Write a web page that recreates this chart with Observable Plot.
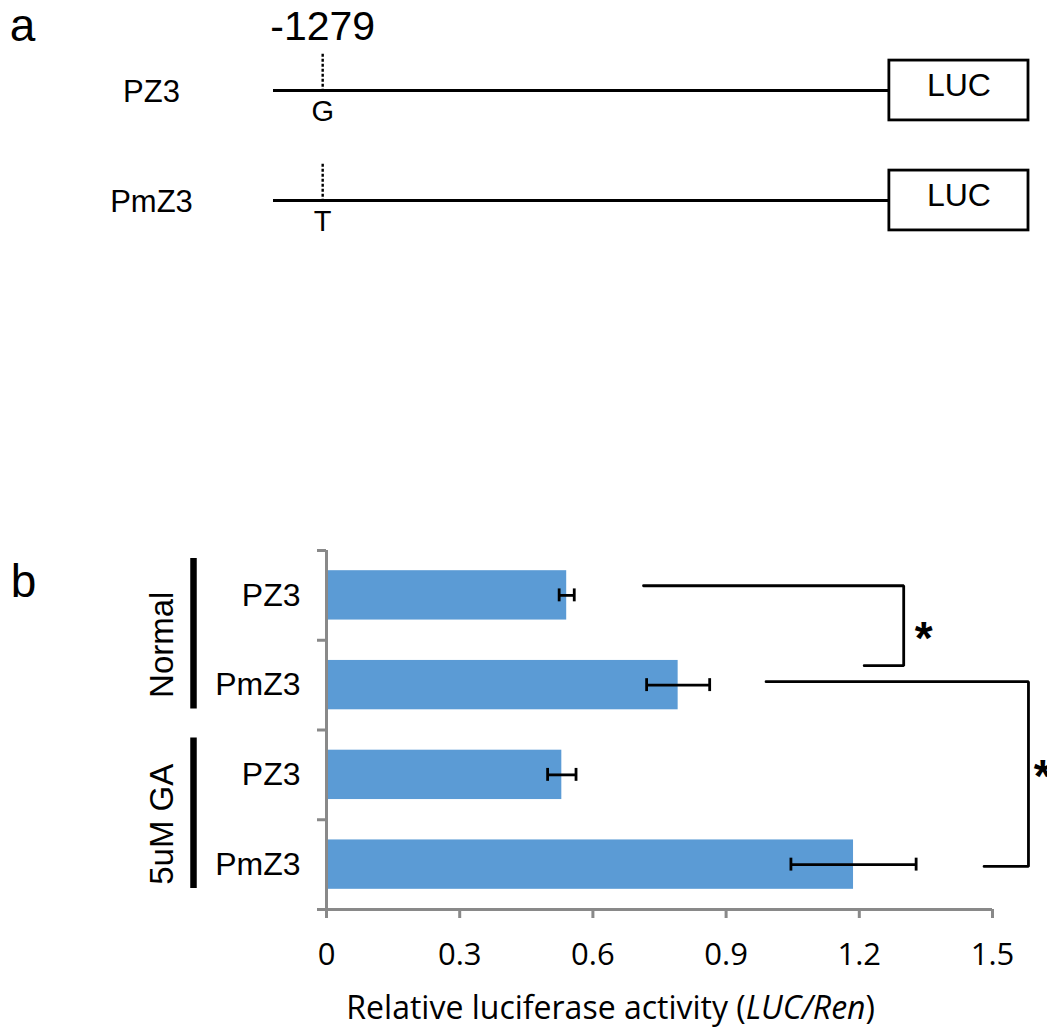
<!DOCTYPE html>
<html><head><meta charset="utf-8">
<script src="https://cdn.jsdelivr.net/npm/d3@7"></script>
<script src="https://cdn.jsdelivr.net/npm/@observablehq/plot@0.6"></script>
<style>
html,body{margin:0;padding:0;background:#fff;}
#fig{width:1047px;height:1029px;position:relative;overflow:hidden;background:#fff;}
#fig svg{display:block;}
</style></head><body><div id="fig"></div>
<script>
// ---------- Panel a: reporter constructs ----------
const constructs = ["PZ3", "PmZ3"];
const snpAllele = ["G", "T"];
const snpPosition = -1279;       // bp relative to LUC start
const promoterStart = -1390;     // bp
const lucLength = 314;           // drawn length of the LUC box (bp units)
const reporter = "LUC";

// ---------- Panel b: luciferase assay ----------
const treatments = ["Normal", "Normal", "5uM GA", "5uM GA"];
const barConstructs = ["PZ3", "PmZ3", "PZ3", "PmZ3"];
const activity = [0.541, 0.792, 0.530, 1.187];
const activityErr = [0.017, 0.071, 0.032, 0.141];
const xTicks = [0, 0.3, 0.6, 0.9, 1.2, 1.5];
const xTickLabels = ["0", "0.3", "0.6", "0.9", "1.2", "1.5"];
const groupNames = ["Normal", "5uM GA"];
const xLabelParts = ["Relative luciferase activity (", "LUC/Ren", ")"];

// significance brackets (data units)
const sigLabels = ["*", "*"];
const bracketTopStart = [0.714, 0.990];
const bracketBottomStart = [1.211, 1.481];
const bracketX = [1.300, 1.581];
const bracketTopY = [0.393, 1.462];
const bracketBottomY = [1.283, 3.52];
const starX = [1.345, 1.613];
const starY = [0.99, 2.53];

const W = 1047;
const AXIS_GRAY = "#898989";
const ARIAL = "'Liberation Sans', Arial, sans-serif";
const CALIBRI = "'Open Sans', 'Liberation Sans', sans-serif";

// ---------- Panel a ----------
const rowsA = constructs.map((c, i) => ({name: c, allele: snpAllele[i], row: i}));
const plotA = Plot.plot({
  width: W, height: 270,
  marginLeft: 273, marginRight: 19, marginTop: 90, marginBottom: 70,
  x: {domain: [promoterStart, lucLength], axis: null},
  y: {domain: [0, 1], reverse: true, axis: null},
  style: {fontFamily: ARIAL, background: "white", color: "black"},
  marks: [
    Plot.ruleY(rowsA, {y: "row", x1: promoterStart, x2: 0, stroke: "black", strokeWidth: 2.8}),
    Plot.ruleX(rowsA, {x: snpPosition, y1: d => d.row - 0.33, y2: "row", stroke: "black", strokeWidth: 2.4, strokeDasharray: "3,2"}),
    Plot.rect(rowsA, {x1: 0, x2: lucLength, y1: d => d.row - 0.272, y2: d => d.row + 0.272, fill: "white", stroke: "black", strokeWidth: 2.8}),
    Plot.text(rowsA, {x: lucLength / 2, y: "row", text: () => reporter, dy: -5, fontSize: 32, fill: "black"}),
    Plot.text(rowsA, {x: snpPosition, y: "row", text: "allele", dy: 21, fontSize: 29, fill: "black"}),
    Plot.text(rowsA, {frameAnchor: "left", y: "row", text: "name", textAnchor: "middle", dx: -122, dy: 2, fontSize: 31, fill: "black"}),
    Plot.text([String(snpPosition)], {x: snpPosition, y: 0, text: d => d, dy: -64, fontSize: 41, fill: "black"}),
    Plot.text(["a"], {frameAnchor: "top-left", text: d => d, textAnchor: "middle", lineAnchor: "middle", dx: -251, dy: -64, fontSize: 46, fill: "black"})
  ]
});

// ---------- Panel b ----------
const bars = activity.map((v, i) => ({i, value: v, err: activityErr[i], construct: barConstructs[i], treatment: treatments[i]}));
const groups = groupNames.map(g => {
  const idx = treatments.map((t, i) => t === g ? i : -1).filter(i => i >= 0);
  return {name: g, start: d3.min(idx), end: d3.max(idx) + 1};
});
const brackets = sigLabels.map((s, k) => ({k, label: s}));
const bracketPts = brackets.flatMap(b => [
  {k: b.k, x: bracketTopStart[b.k], y: bracketTopY[b.k]},
  {k: b.k, x: bracketX[b.k], y: bracketTopY[b.k]},
  {k: b.k, x: bracketX[b.k], y: bracketBottomY[b.k]},
  {k: b.k, x: bracketBottomStart[b.k], y: bracketBottomY[b.k]}
]);
const fullLabel = xLabelParts.join("");

const plotB = Plot.plot({
  width: W, height: 759,
  marginLeft: 326, marginRight: 55, marginTop: 280, marginBottom: 120,
  x: {domain: [0, 1.5], axis: null},
  y: {domain: [0, 4], reverse: true, axis: null},
  style: {fontFamily: ARIAL, background: "white", color: "black"},
  marks: [
    Plot.rect(bars, {x1: 0, x2: "value", y1: d => d.i + 0.5 - 0.275, y2: d => d.i + 0.5 + 0.275, fill: "#5B9BD5"}),
    // error bars
    Plot.ruleY(bars, {y: d => d.i + 0.5, x1: d => d.value - d.err, x2: d => d.value + d.err, stroke: "black", strokeWidth: 2.8}),
    Plot.ruleX(bars, {x: d => d.value - d.err, y1: d => d.i + 0.5 - 0.072, y2: d => d.i + 0.5 + 0.072, stroke: "black", strokeWidth: 2.8}),
    Plot.ruleX(bars, {x: d => d.value + d.err, y1: d => d.i + 0.5 - 0.072, y2: d => d.i + 0.5 + 0.072, stroke: "black", strokeWidth: 2.8}),
    // axes
    Plot.axisX({ticks: xTicks, tickFormat: d => xTickLabels[xTicks.indexOf(d)], tickSize: 9, tickPadding: 24,
      stroke: AXIS_GRAY, strokeWidth: 3, fill: "black", fontSize: 31, fontFamily: CALIBRI, label: null}),
    Plot.axisY({ticks: [0, 1, 2, 3, 4], tickFormat: () => "", tickSize: 9, stroke: AXIS_GRAY, strokeWidth: 3, label: null}),
    Plot.ruleX([0], {y1: 0, y2: 4, stroke: AXIS_GRAY, strokeWidth: 3}),
    Plot.ruleY([4], {x1: -0.02, x2: 1.5, stroke: AXIS_GRAY, strokeWidth: 3}),
    // category labels
    Plot.text(bars, {frameAnchor: "left", y: d => d.i + 0.5, text: "construct", textAnchor: "end", dx: -26, fontSize: 32, fill: "black"}),
    // group bars and labels
    Plot.ruleX(groups, {x: 0, dx: -133, y1: d => d.start + 0.09, y2: d => d.end - 0.235, stroke: "black", strokeWidth: 6.5}),
    Plot.text(groups, {frameAnchor: "left", y: d => (d.start + d.end) / 2 + 0.05, text: "name", rotate: -90, textAnchor: "middle", lineAnchor: "middle", dx: -164, fontSize: 33, fill: "black"}),
    // significance brackets
    Plot.line(bracketPts, {x: "x", y: "y", z: "k", stroke: "black", strokeWidth: 2.8, curve: "linear", strokeLinejoin: "miter"}),
    Plot.text(brackets, {x: d => starX[d.k], y: d => starY[d.k], text: "label", fontSize: 46, fontWeight: "bold", fill: "black"}),
    // axis title
    Plot.text([fullLabel], {x: 0.64, y: 4, text: d => d, dy: 99, fontSize: 32, fontFamily: CALIBRI, fill: "black"}),
    // panel letter
    Plot.text(["b"], {frameAnchor: "top-left", text: d => d, textAnchor: "middle", lineAnchor: "middle", dx: -303, dy: 32, fontSize: 46, fill: "black"})
  ]
});

// italicise LUC/Ren in the axis title
d3.select(plotB).selectAll("text").filter(function() { return this.textContent === fullLabel; })
  .each(function() {
    const t = d3.select(this);
    t.text(null);
    t.append("tspan").text(xLabelParts[0]);
    t.append("tspan").attr("font-style", "italic").text(xLabelParts[1]);
    t.append("tspan").text(xLabelParts[2]);
  });

const fig = document.getElementById("fig");
fig.appendChild(plotA);
fig.appendChild(plotB);
</script></body></html>
